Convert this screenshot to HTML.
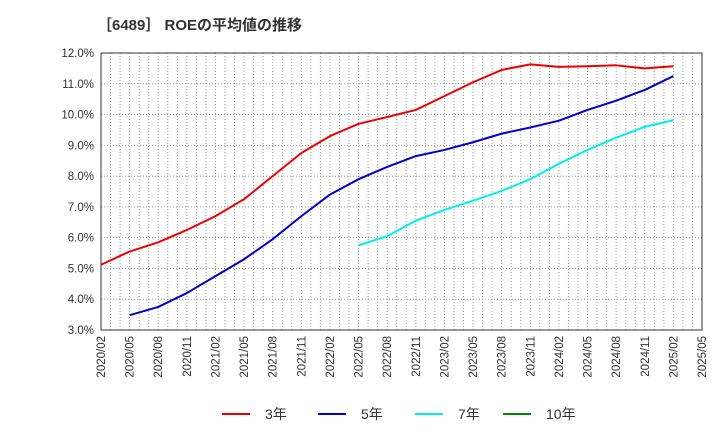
<!DOCTYPE html>
<html><head><meta charset="utf-8"><style>
body{margin:0;background:#fff;font-family:"Liberation Sans","Noto Sans CJK JP",sans-serif;}
</style></head><body>
<svg id="c" width="720" height="440" xmlns="http://www.w3.org/2000/svg">
<text x="97" y="30" font-size="15" font-weight="bold" fill="#333">［6489］ ROEの平均値の推移</text>
<g id="grid"></g><g id="axes"></g><g id="series"></g>
<g font-size="14" fill="#333">
<line x1="222" y1="414" x2="250" y2="414" stroke="#e00" stroke-width="2"/><text x="265" y="419">3年</text>
<line x1="318" y1="414" x2="346" y2="414" stroke="#00c" stroke-width="2"/><text x="361" y="419">5年</text>
<line x1="415" y1="414" x2="443" y2="414" stroke="#0ee" stroke-width="2"/><text x="458" y="419">7年</text>
<line x1="503" y1="414" x2="531" y2="414" stroke="#080" stroke-width="2"/><text x="546" y="419">10年</text>
</g>
</svg>
<script>
const xLabels=["2020/02","2020/05","2020/08","2020/11","2021/02","2021/05","2021/08","2021/11","2022/02","2022/05","2022/08","2022/11","2023/02","2023/05","2023/08","2023/11","2024/02","2024/05","2024/08","2024/11","2025/02","2025/05"];
const yTicks=[3,4,5,6,7,8,9,10,11,12];
const s3=[5.12,5.55,5.85,6.25,6.7,7.25,8.0,8.75,9.3,9.7,9.92,10.15,10.6,11.05,11.45,11.63,11.55,11.57,11.6,11.5,11.57];
const s3Start=0;
const s5=[3.48,3.75,4.2,4.75,5.3,5.95,6.7,7.4,7.9,8.3,8.65,8.85,9.1,9.38,9.58,9.8,10.15,10.45,10.8,11.25];
const s5Start=1;
const s7=[5.75,6.05,6.55,6.9,7.2,7.52,7.9,8.4,8.85,9.25,9.6,9.82];
const s7Start=9;
const L=101,R=702,T=53,B=330,ymin=3,ymax=12;
const NS="http://www.w3.org/2000/svg";
const xq=i=>L+i*(R-L)/(xLabels.length-1);
const y=v=>B-(v-ymin)*(B-T)/(ymax-ymin);
function mk(t,a,p){const e=document.createElementNS(NS,t);for(const k in a)e.setAttribute(k,a[k]);p.appendChild(e);return e;}
const grid=document.getElementById('grid'),axes=document.getElementById('axes'),ser=document.getElementById('series');
const nm=(xLabels.length-1)*3;
for(let m=1;m<nm;m++){const x=L+m*(R-L)/nm;const g=mk('line',{x1:x,x2:x,y1:T,y2:B,stroke:'#999','stroke-dasharray':'1,2','stroke-width':1},grid);

}
yTicks.forEach(v=>{const g=mk('line',{x1:L,x2:R,y1:y(v),y2:y(v),stroke:'#999','stroke-dasharray':'1,2'},grid);


const t=mk('text',{x:L-7,y:y(v)+4,'text-anchor':'end','font-size':11.5,fill:'#333'},axes);t.textContent=v.toFixed(1)+'%';

});
const fr=mk('rect',{x:L,y:T,width:R-L,height:B-T,fill:'none',stroke:'#333'},axes);


xLabels.forEach((l,i)=>{const t=mk('text',{x:0,y:0,transform:`translate(${xq(i)+4},${B+6}) rotate(-90)`,'text-anchor':'end','font-size':11.5,fill:'#333'},axes);t.textContent=l;

});
function line(d,st,c,n){const p=mk('polyline',{points:d.map((v,i)=>xq(i+st)+','+y(v)).join(' '),fill:'none',stroke:c,'stroke-width':2,'stroke-linejoin':'round'},ser);

}
line(s3,s3Start,'#e00','series-3y');
line(s5,s5Start,'#00c','series-5y');
line(s7,s7Start,'#0ee','series-7y');
</script>
</body></html>
